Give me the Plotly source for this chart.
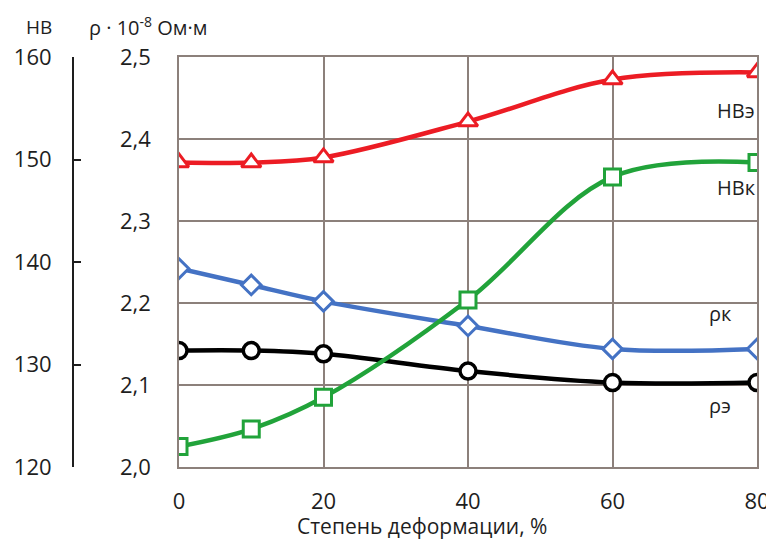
import plotly.graph_objects as go

deformation = [0, 10, 20, 40, 60, 80]
hb_e = [149.7, 149.7, 150.2, 153.7, 157.8, 158.5]
hb_k = [122.0, 123.7, 126.8, 136.3, 148.3, 149.7]
rho_k = [2.242, 2.222, 2.202, 2.172, 2.144, 2.144]
rho_e = [2.142, 2.142, 2.138, 2.117, 2.103, 2.103]

x_ticks = [0, 20, 40, 60, 80]
rho_ticks = [2.0, 2.1, 2.2, 2.3, 2.4, 2.5]
hb_ticks = [120, 130, 140, 150, 160]

FONT = "Open Sans"
OFF = 8  # page body margin
W, H = 774 - OFF, 540 - OFF
ML, MR, MT, MB = 12, 17, 57 - OFF, 540 - 467
PW = W - ML - MR
PH = H - MT - MB
x0_dom = (179 - OFF - ML) / PW
hb_pos = (73 - OFF - ML) / PW

fig = go.Figure()

fig.add_trace(go.Scatter(
    x=deformation, y=rho_e, yaxis="y", mode="lines+markers",
    line=dict(color="#000000", width=4.5, shape="spline"),
    marker=dict(symbol="circle", size=16, color="white", line=dict(color="#000000", width=3.5)),
    showlegend=False))
fig.add_trace(go.Scatter(
    x=deformation, y=rho_k, yaxis="y", mode="lines+markers",
    line=dict(color="#4472c4", width=4.5, shape="spline"),
    marker=dict(symbol="diamond", size=15, color="white", line=dict(color="#4472c4", width=3)),
    showlegend=False))
fig.add_trace(go.Scatter(
    x=deformation, y=hb_k, yaxis="y2", mode="lines+markers",
    line=dict(color="#21a33a", width=4.5, shape="spline"),
    marker=dict(symbol="square", size=16, color="white", line=dict(color="#21a33a", width=3)),
    showlegend=False))
fig.add_trace(go.Scatter(
    x=deformation, y=hb_e, yaxis="y2", mode="lines+markers",
    line=dict(color="#ec1c24", width=4.5, shape="spline"),
    marker=dict(symbol="triangle-up", size=17, color="white", line=dict(color="#ec1c24", width=3)),
    showlegend=False))

grid_col = "#8c807b"

fig.update_layout(
    template="none",
    width=W, height=H, autosize=False,
    margin=dict(l=ML, r=MR, t=MT, b=MB, autoexpand=False),
    paper_bgcolor="white", plot_bgcolor="white",
    separators=", ",
    font=dict(family=FONT, size=22, color="#1e1e1e"),
    xaxis=dict(
        domain=[x0_dom, 1], range=[0, 80], tickvals=x_ticks, automargin=False,
        showgrid=True, gridcolor=grid_col, gridwidth=1.5,
        showline=True, linecolor=grid_col, linewidth=1.5, mirror=True,
        zeroline=False, ticks="", ticklabelstandoff=14,
        tickfont=dict(family=FONT, size=22, color="#1e1e1e"),
    ),
    yaxis=dict(
        range=[2.0, 2.5], tickvals=rho_ticks, tickformat=".1f", automargin=False,
        showgrid=True, gridcolor=grid_col, gridwidth=1.5,
        showline=True, linecolor=grid_col, linewidth=1.5, mirror=True,
        zeroline=False, ticks="", ticklabelstandoff=22,
        tickfont=dict(family=FONT, size=22, color="#1e1e1e"),
    ),
    yaxis2=dict(
        overlaying="y", anchor="free", side="left", position=hb_pos,
        range=[120, 160], tickvals=hb_ticks, automargin=False,
        showgrid=False, zeroline=False,
        showline=True, linecolor="#1e1e1e", linewidth=2,
        ticks="inside", ticklen=7, tickwidth=2, tickcolor="#1e1e1e",
        ticklabelstandoff=16,
        tickfont=dict(family=FONT, size=22, color="#1e1e1e"),
    ),
)

def ann(text, xp, yp, size=19, xanchor="center"):
    fig.add_annotation(text=text, xref="paper", yref="paper",
                       x=(xp - OFF - ML) / PW, y=1 - (yp - OFF - MT) / PH,
                       showarrow=False, xanchor=xanchor, yanchor="middle",
                       font=dict(family=FONT, size=size, color="#1e1e1e"))

ann("НВ", 39, 27, size=19)
ann("ρ · 10<sup>-8</sup> Ом·м", 87, 27, size=20, xanchor="left")
ann("Степень деформации, %", 422, 526, size=21)
ann("НВэ", 736, 110, size=20)
ann("НВк", 736, 187, size=20)
ann("ρк", 720, 313, size=20)
ann("ρэ", 720, 405, size=20)

fig.write_html("out.html")
